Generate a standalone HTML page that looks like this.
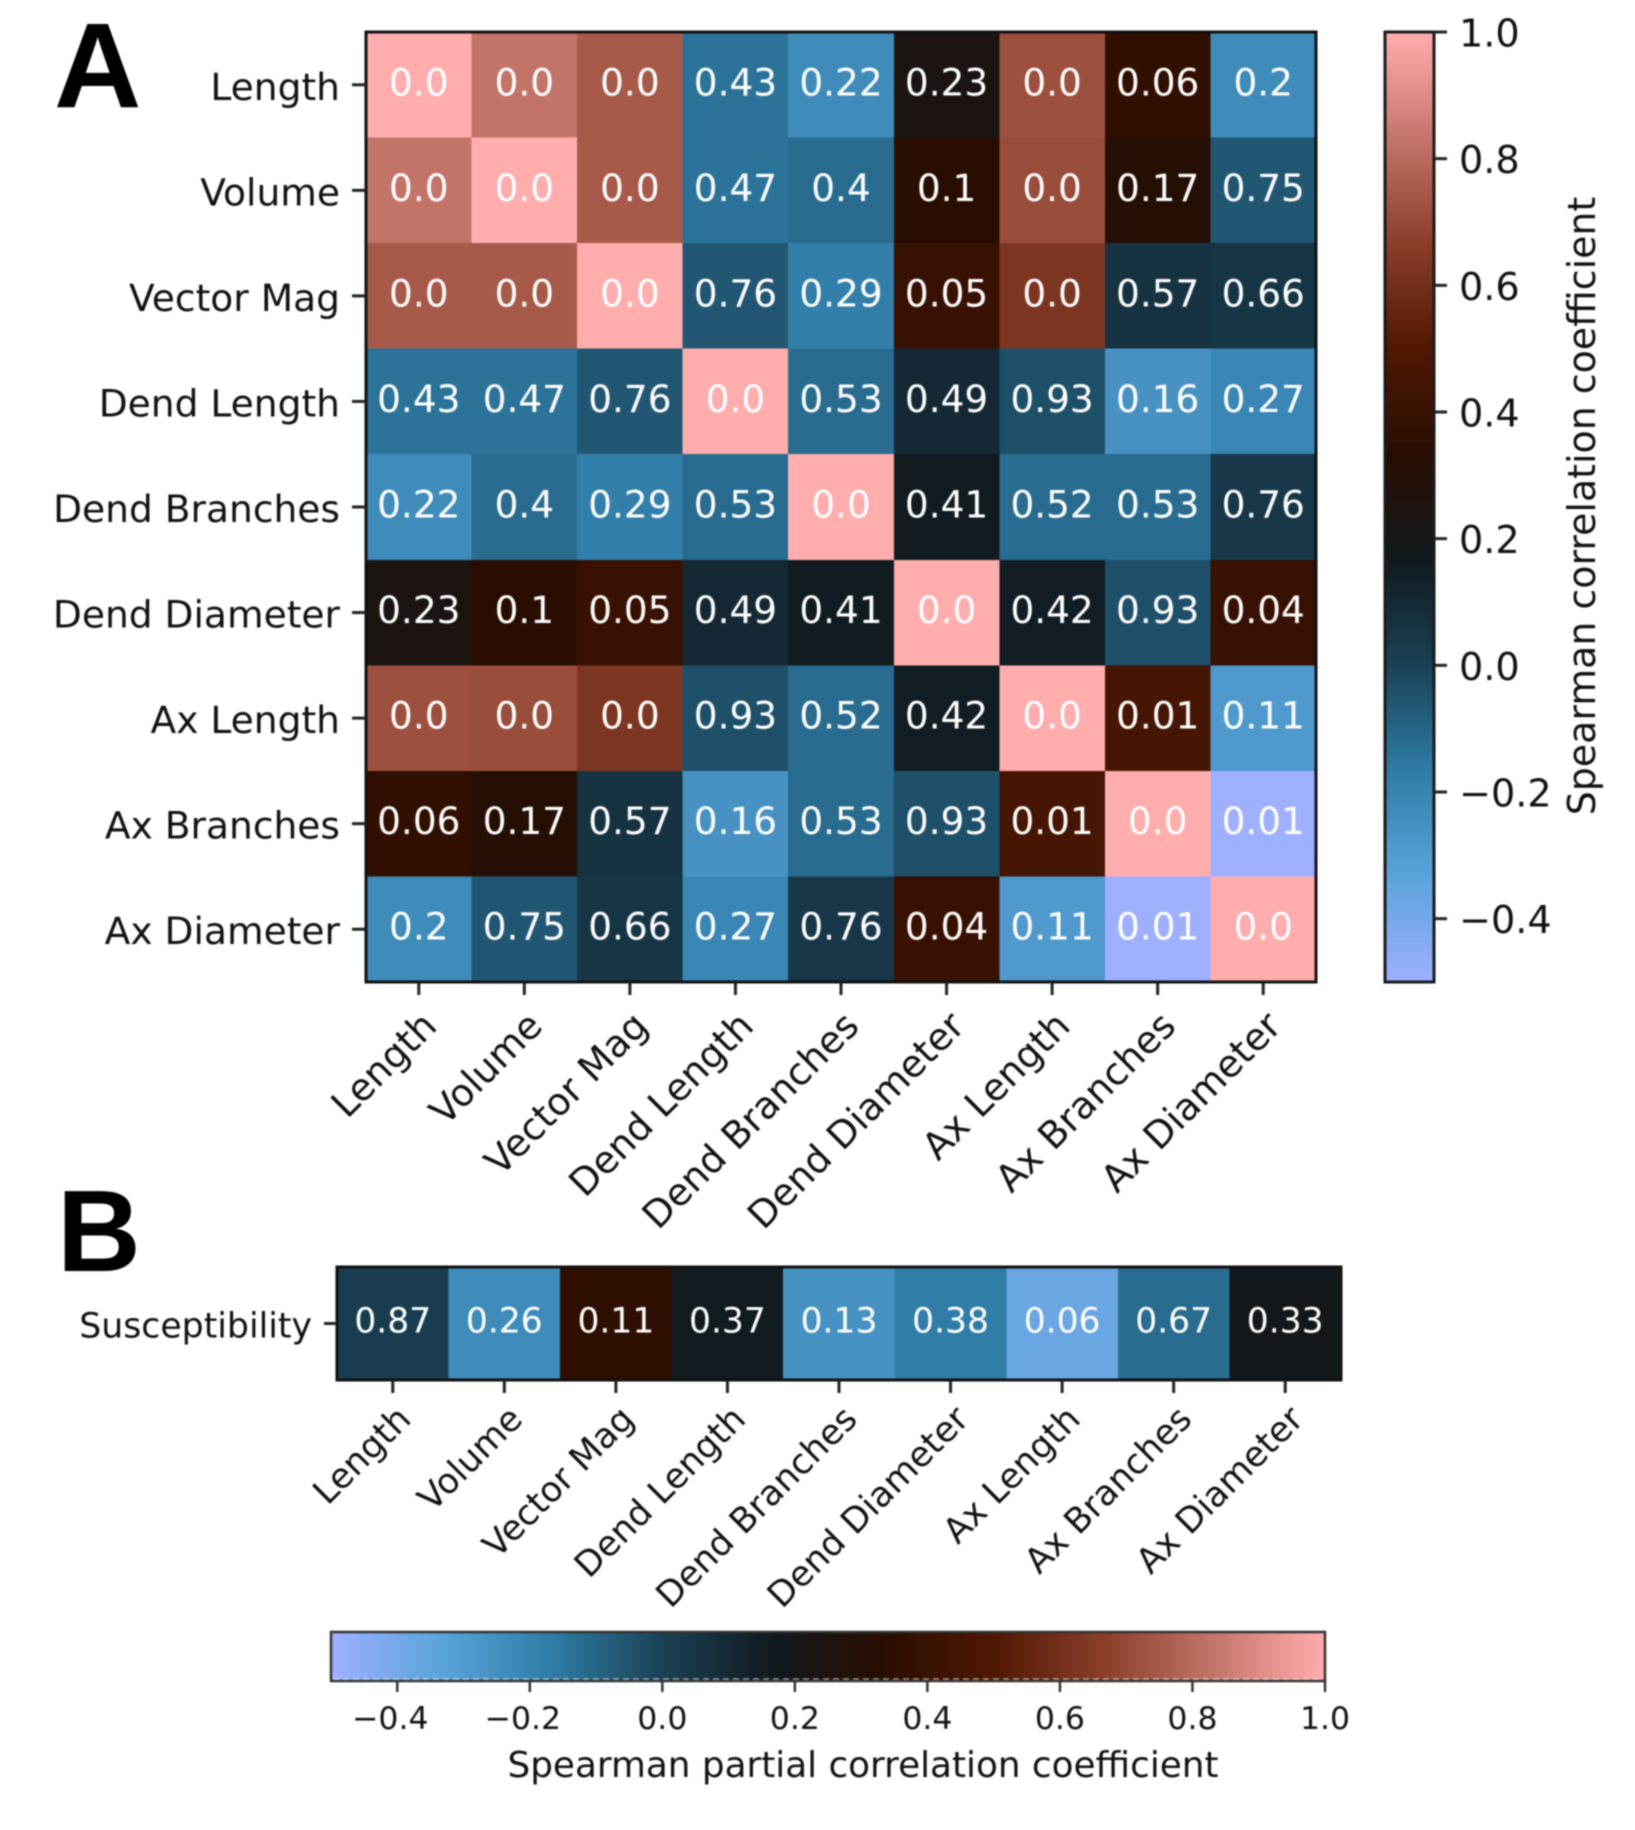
<!DOCTYPE html>
<html>
<head>
<meta charset="utf-8">
<title>Spearman correlation heatmaps</title>
<style>
html,body{margin:0;padding:0;background:#fff;}
#chart{display:block;width:1635px;height:1830px;filter:blur(0.75px);}
text{font-family:"DejaVu Sans","Liberation Sans",sans-serif;fill:#111;}
.bold{font-family:"Liberation Sans",sans-serif;font-weight:bold;fill:#000;}
</style>
</head>
<body>
<svg id="chart" xmlns="http://www.w3.org/2000/svg" width="1635" height="1830" viewBox="0 0 1635 1830">
  <text class="bold" x="54" y="107" font-size="121">A</text>
  <text class="bold" x="57" y="1271" font-size="116">B</text>
  <text x="1595" y="506" font-size="37.9" text-anchor="middle" transform="rotate(-90 1595 506)">Spearman correlation coefficient</text>
  <text x="863" y="1777" font-size="35.8" text-anchor="middle">Spearman partial correlation coefficient</text>
</svg>
<script>
// ---- chart data ----
const categories = ['Length','Volume','Vector Mag','Dend Length','Dend Branches','Dend Diameter','Ax Length','Ax Branches','Ax Diameter'];
const rowLabelB = ['Susceptibility'];
const correlations = [
  [1.00, 0.83, 0.75,-0.14,-0.23, 0.24, 0.72, 0.37,-0.23],
  [0.83, 1.00, 0.75,-0.14,-0.12, 0.34, 0.71, 0.31,-0.06],
  [0.75, 0.75, 1.00,-0.06,-0.18, 0.40, 0.63, 0.06, 0.05],
  [-0.14,-0.14,-0.06, 1.00,-0.12, 0.10,-0.04,-0.26,-0.21],
  [-0.23,-0.12,-0.18,-0.12, 1.00, 0.16,-0.12,-0.12, 0.04],
  [0.24, 0.34, 0.40, 0.10, 0.16, 1.00, 0.15,-0.04, 0.40],
  [0.72, 0.71, 0.63,-0.04,-0.12, 0.15, 1.00, 0.46,-0.29],
  [0.37, 0.31, 0.06,-0.26,-0.12,-0.04, 0.46, 1.00,-0.50],
  [-0.23,-0.06, 0.05,-0.21, 0.04, 0.40,-0.29,-0.50, 1.00]
];
const pValues = [
  ['0.0','0.0','0.0','0.43','0.22','0.23','0.0','0.06','0.2'],
  ['0.0','0.0','0.0','0.47','0.4','0.1','0.0','0.17','0.75'],
  ['0.0','0.0','0.0','0.76','0.29','0.05','0.0','0.57','0.66'],
  ['0.43','0.47','0.76','0.0','0.53','0.49','0.93','0.16','0.27'],
  ['0.22','0.4','0.29','0.53','0.0','0.41','0.52','0.53','0.76'],
  ['0.23','0.1','0.05','0.49','0.41','0.0','0.42','0.93','0.04'],
  ['0.0','0.0','0.0','0.93','0.52','0.42','0.0','0.01','0.11'],
  ['0.06','0.17','0.57','0.16','0.53','0.93','0.01','0.0','0.01'],
  ['0.2','0.75','0.66','0.27','0.76','0.04','0.11','0.01','0.0']
];
const partialCorrelations = [0.02,-0.23,0.36,0.16,-0.26,-0.17,-0.37,-0.12,0.18];
const partialPValues = ['0.87','0.26','0.11','0.37','0.13','0.38','0.06','0.67','0.33'];
const colorbarTicks = [-0.4,-0.2,0.0,0.2,0.4,0.6,0.8,1.0];
const colorMin = -0.5;
const colorMax = 1.0;
const berlinStops = ['#9EB0FF','#5AA3DA','#2F7CA6','#1A4256','#11191E','#280D01','#501803','#8A3F2A','#C4756A','#FFADAD'];

// ---- helpers ----
const svg = document.getElementById('chart');
const NS = 'http://www.w3.org/2000/svg';
function make(tag, attrs, text) {
  const el = document.createElementNS(NS, tag);
  for (const k in attrs) el.setAttribute(k, attrs[k]);
  if (text !== undefined) el.textContent = text;
  svg.appendChild(el);
  return el;
}
function hexToRgb(h) {
  return [parseInt(h.slice(1,3),16),parseInt(h.slice(3,5),16),parseInt(h.slice(5,7),16)];
}
function colorScale(v) {
  const f = Math.min(1, Math.max(0, (v - colorMin) / (colorMax - colorMin))) * (berlinStops.length - 1);
  const i = Math.min(berlinStops.length - 2, Math.floor(f));
  const a = hexToRgb(berlinStops[i]);
  const b = hexToRgb(berlinStops[i + 1]);
  const t = f - i;
  return 'rgb(' + a.map((c, k) => Math.round(c + (b[k] - c) * t)).join(',') + ')';
}
function band(start, end, n) {
  return i => start + (end - start) * i / n;
}
function tickLabel(v) {
  return (v < 0 ? '\u2212' : '') + Math.abs(v).toFixed(1);
}

// ---- panel geometry ----
const A = {left: 366, right: 1316, top: 32, bottom: 982};
const B = {left: 337, right: 1341, top: 1267, bottom: 1380};
const ax = band(A.left, A.right, categories.length);
const ay = band(A.top, A.bottom, categories.length);
const bx = band(B.left, B.right, categories.length);

// ---- panel A cells ----
correlations.forEach((row, r) => {
  row.forEach((v, c) => {
    const cell = make('rect', {x: ax(c), y: ay(r), width: ax(c + 1) - ax(c), height: ay(r + 1) - ay(r), fill: colorScale(v), 'shape-rendering': 'crispEdges'});
    
    
  });
});
pValues.forEach((row, r) => {
  row.forEach((p, c) => {
    const t = make('text', {x: (ax(c) + ax(c + 1)) / 2, y: (ay(r) + ay(r + 1)) / 2 + 10.5, 'font-size': 37.4, 'text-anchor': 'middle', style: 'fill:#fff'}, p);
    
    
  });
});
const frameA = make('rect', {x: A.left, y: A.top, width: A.right - A.left, height: A.bottom - A.top, fill: 'none', stroke: '#111', 'stroke-width': 3});



categories.forEach((name, i) => {
  const cy = (ay(i) + ay(i + 1)) / 2;
  const cx = (ax(i) + ax(i + 1)) / 2;
  const yt = make('line', {x1: A.left - 14, x2: A.left, y1: cy, y2: cy, stroke: '#222', 'stroke-width': 3});
  
  
  const yl = make('text', {x: A.left - 26, y: cy + 15, 'font-size': 37.6, 'text-anchor': 'end'}, name);
  
  
  const xt = make('line', {x1: cx, x2: cx, y1: A.bottom, y2: A.bottom + 13, stroke: '#222', 'stroke-width': 3});
  
  
  const lx = cx + 20, ly = 1028;
  const xl = make('text', {x: lx, y: ly, 'font-size': 37.6, 'text-anchor': 'end', transform: 'rotate(-45 ' + lx + ' ' + ly + ')'}, name);
  
  
});

// ---- panel B cells ----
partialCorrelations.forEach((v, c) => {
  const cell = make('rect', {x: bx(c), y: B.top, width: bx(c + 1) - bx(c), height: B.bottom - B.top, fill: colorScale(v), 'shape-rendering': 'crispEdges'});
  
  
});
partialPValues.forEach((p, c) => {
  const t = make('text', {x: (bx(c) + bx(c + 1)) / 2, y: (B.top + B.bottom) / 2 + 9, 'font-size': 34.5, 'text-anchor': 'middle', style: 'fill:#fff'}, p);
  
  
});
const frameB = make('rect', {x: B.left, y: B.top, width: B.right - B.left, height: B.bottom - B.top, fill: 'none', stroke: '#111', 'stroke-width': 3});



const byc = (B.top + B.bottom) / 2;
const byTick = make('line', {x1: B.left - 13, x2: B.left, y1: byc, y2: byc, stroke: '#222', 'stroke-width': 3});


const byLabel = make('text', {x: B.left - 25, y: byc + 14, 'font-size': 34.7, 'text-anchor': 'end'}, rowLabelB[0]);



categories.forEach((name, i) => {
  const cx = (bx(i) + bx(i + 1)) / 2;
  const xt = make('line', {x1: cx, x2: cx, y1: B.bottom, y2: B.bottom + 13, stroke: '#222', 'stroke-width': 3});
  
  
  const lx = cx + 20, ly = 1421;
  const xl = make('text', {x: lx, y: ly, 'font-size': 34.9, 'text-anchor': 'end', transform: 'rotate(-45 ' + lx + ' ' + ly + ')'}, name);
  
  
});

// ---- colorbars ----
const defs = document.createElementNS(NS, 'defs');
svg.appendChild(defs);
function gradient(id, x1, y1, x2, y2) {
  const g = document.createElementNS(NS, 'linearGradient');
  g.setAttribute('id', id);
  g.setAttribute('x1', x1); g.setAttribute('y1', y1);
  g.setAttribute('x2', x2); g.setAttribute('y2', y2);
  berlinStops.forEach((c, i) => {
    const s = document.createElementNS(NS, 'stop');
    s.setAttribute('offset', i / (berlinStops.length - 1));
    s.setAttribute('stop-color', c);
    g.appendChild(s);
  });
  defs.appendChild(g);
}
gradient('grad-v', 0, 1, 0, 0);
gradient('grad-h', 0, 0, 1, 0);

// vertical colorbar (panel A)
const CV = {left: 1385, right: 1434, top: 32, bottom: 982};
const cvY = v => CV.bottom - (v - colorMin) / (colorMax - colorMin) * (CV.bottom - CV.top);
const cvBar = make('rect', {x: CV.left, y: CV.top, width: CV.right - CV.left, height: CV.bottom - CV.top, fill: 'url(#grad-v)', stroke: '#1a1a1a', 'stroke-width': 3});


colorbarTicks.forEach(v => {
  const y = cvY(v);
  const t = make('line', {x1: CV.right, x2: CV.right + 13, y1: y, y2: y, stroke: '#222', 'stroke-width': 3});
  
  
  const l = make('text', {x: 1459, y: y + 14.5, 'font-size': 38.2}, tickLabel(v));
  
  
});

// horizontal colorbar (panel B)
const CH = {left: 331, right: 1325, top: 1632, bottom: 1681};
const chX = v => CH.left + (v - colorMin) / (colorMax - colorMin) * (CH.right - CH.left);
const chBar = make('rect', {x: CH.left, y: CH.top, width: CH.right - CH.left, height: CH.bottom - CH.top, fill: 'url(#grad-h)', stroke: '#333', 'stroke-width': 2.5});


const chDash = make('line', {x1: CH.left + 2, x2: CH.right - 2, y1: CH.bottom - 2, y2: CH.bottom - 2, stroke: '#fff', 'stroke-width': 1.5, 'stroke-dasharray': '6 4', opacity: 0.55});


colorbarTicks.forEach(v => {
  const x = chX(v);
  const t = make('line', {x1: x, x2: x, y1: CH.bottom, y2: CH.bottom + 11, stroke: '#333', 'stroke-width': 2.5});
  
  
  const l = make('text', {x: v < 0 ? x - 7 : x, y: 1729, 'font-size': 31.5, 'text-anchor': 'middle'}, tickLabel(v));
  
  
});
</script>
</body>
</html>
